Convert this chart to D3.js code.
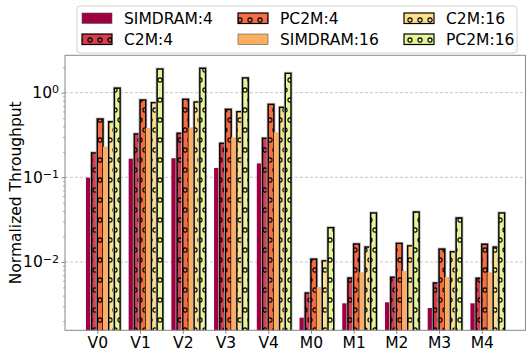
<!DOCTYPE html>
<html>
<head>
<meta charset="utf-8">
<script src="https://cdn.jsdelivr.net/npm/d3@7/dist/d3.min.js"></script>
<style>
  body { margin: 0; background: #fff; }
  text { font-family: "DejaVu Sans", sans-serif; fill: #000; }
</style>
</head>
<body>
<script>
// カテゴリと系列
var categories = ["V0", "V1", "V2", "V3", "V4", "M0", "M1", "M2", "M3", "M4"];
var seriesNames = ["SIMDRAM:4", "C2M:4", "PC2M:4", "SIMDRAM:16", "C2M:16", "PC2M:16"];

var simdram4  = [0.099, 0.166, 0.168, 0.129, 0.146, 0.0022, 0.00325, 0.00334, 0.00286, 0.00325];
var c2m4      = [0.194, 0.325, 0.331, 0.252, 0.289, 0.0043, 0.00647, 0.0066, 0.00565, 0.00643];
var pc2m4     = [0.488, 0.818, 0.834, 0.635, 0.727, 0.0108, 0.0163, 0.0166, 0.0142, 0.0162];
var simdram16 = [0.23, 0.382, 0.389, 0.297, 0.34, 0.00507, 0.00756, 0.00783, 0.00665, 0.00756];
var c2m16     = [0.453, 0.76, 0.774, 0.595, 0.67, 0.0103, 0.015, 0.0155, 0.0132, 0.015];
var pc2m16    = [1.13, 1.9, 1.94, 1.49, 1.69, 0.0254, 0.0379, 0.0389, 0.0331, 0.0379];

var seriesValues = [simdram4, c2m4, pc2m4, simdram16, c2m16, pc2m16];
var yMajorTicks = [0.01, 0.1, 1];
var yTickExponents = ["−2", "−1", "0"];

var colors = ["#9e0142", "#d53e4f", "#f46d43", "#fdae61", "#fee08b", "#e6f598"];
var hatched = [false, true, true, false, true, true];

var W = 531, H = 357;
var pLeft = 65, pRight = 525.5, pTop = 55.3, pBottom = 330.3;
var barW = 0.8 / 6;
var fs = 15.5; // 文字サイズ

var svg = d3.select("body").append("svg")
    .attr("width", W)
    .attr("height", H);

// ハッチ模様 (o)
var defs = svg.append("defs");
colors.forEach(function(c, i) {
    var p = defs.append("pattern")
        .attr("id", "hatch" + i)
        .attr("patternUnits", "userSpaceOnUse")
        .attr("width", 10)
        .attr("height", 20);
    p.append("rect").attr("width", 10).attr("height", 20).attr("fill", c);
    [[0, 0], [10, 0], [5, 10], [0, 20], [10, 20]].forEach(function(pt) {
        p.append("circle")
            .attr("cx", pt[0]).attr("cy", pt[1]).attr("r", 2.1)
            .attr("fill", "none").attr("stroke", "#000").attr("stroke-width", 1.1);
    });
});
defs.append("clipPath").attr("id", "plotclip")
    .append("rect").attr("x", pLeft).attr("y", pTop)
    .attr("width", pRight - pLeft).attr("height", pBottom - pTop);

// スケール
var x = d3.scaleLinear()
    .domain([-2 * barW - 0.49, 9 + 4 * barW + 0.49])
    .range([pLeft, pRight]);
var y = d3.scaleLog()
    .domain([0.00156, 2.76])
    .range([pBottom, pTop]);

// グリッド
svg.append("g").selectAll("line")
    .data(yMajorTicks)
    .enter().append("line")
    .attr("x1", pLeft).attr("x2", pRight)
    .attr("y1", function(d) { return y(d); })
    .attr("y2", function(d) { return y(d); })
    .attr("stroke", "#b8b8b8")
    .attr("stroke-width", 0.8)
    .attr("stroke-dasharray", "3,2");

// 棒グラフ
var bars = svg.append("g").attr("clip-path", "url(#plotclip)");
seriesValues.forEach(function(vals, j) {
    var g = bars.append("g");
    if (hatched[j]) {
        g.selectAll(".halo")
            .data(vals).enter().append("rect")
            .attr("x", function(d, i) { return x(i + (j - 2) * barW); })
            .attr("y", function(d) { return y(d); })
            .attr("width", x(barW) - x(0))
            .attr("height", function(d) { return pBottom + 5 - y(d); })
            .attr("fill", "none")
            .attr("stroke", "#bbb")
            .attr("stroke-width", 3);
    }
    g.selectAll(".bar")
        .data(vals).enter().append("rect")
        .attr("x", function(d, i) { return x(i + (j - 2) * barW); })
        .attr("y", function(d) { return y(d); })
        .attr("width", x(barW) - x(0))
        .attr("height", function(d) { return pBottom + 5 - y(d); })
        .attr("fill", hatched[j] ? "url(#hatch" + j + ")" : colors[j])
        .attr("stroke", hatched[j] ? "#000" : "none")
        .attr("stroke-width", 1.4);
});

// 枠
svg.append("rect")
    .attr("x", pLeft).attr("y", pTop)
    .attr("width", pRight - pLeft).attr("height", pBottom - pTop)
    .attr("fill", "none").attr("stroke", "#888").attr("stroke-width", 1);

// X軸
var xAxis = d3.axisBottom(x)
    .tickValues(d3.range(categories.length))
    .tickFormat(function(i) { return categories[i]; })
    .tickSize(3.5).tickSizeOuter(0);
var gx = svg.append("g")
    .attr("transform", "translate(0," + pBottom + ")")
    .call(xAxis);
gx.select(".domain").remove();
gx.selectAll("line").attr("stroke", "#888");
gx.selectAll("text")
    .attr("font-size", fs + "px")
    .attr("font-family", "DejaVu Sans")
    .attr("dy", "0.75em");

// Y軸 (対数, 補助目盛り)
var minorTicks = [];
for (var k = -3; k <= 0; k++) {
    for (var m = 2; m <= 9; m++) {
        var v = m * Math.pow(10, k);
        if (v > 0.00156 && v < 2.76) minorTicks.push(v);
    }
}
var gyMinor = svg.append("g")
    .attr("transform", "translate(" + pLeft + ",0)")
    .call(d3.axisLeft(y).tickValues(minorTicks).tickFormat("").tickSize(2));
gyMinor.select(".domain").remove();
gyMinor.selectAll("line").attr("stroke", "#888").attr("stroke-width", 0.7);

var gy = svg.append("g")
    .attr("transform", "translate(" + pLeft + ",0)")
    .call(d3.axisLeft(y).tickValues(yMajorTicks).tickFormat("").tickSize(3.5));
gy.select(".domain").remove();
gy.selectAll("line").attr("stroke", "#888");

var yl = svg.append("g").selectAll("text")
    .data(yMajorTicks)
    .enter().append("text")
    .attr("x", 59)
    .attr("y", function(d) { return y(d) + 5.5; })
    .attr("text-anchor", "end")
    .attr("font-size", fs + "px");
yl.append("tspan").text("10");
yl.append("tspan")
    .attr("dy", "-0.45em")
    .attr("font-size", "11px")
    .text(function(d, i) { return yTickExponents[i]; });

svg.append("text")
    .attr("transform", "translate(21," + ((pTop + pBottom) / 2) + ") rotate(-90)")
    .attr("text-anchor", "middle")
    .attr("font-size", fs + "px")
    .text("Normalized Throughput");

// 凡例
var legend = svg.append("g");
legend.append("rect")
    .attr("x", 77).attr("y", 6)
    .attr("width", 440).attr("height", 47)
    .attr("rx", 3)
    .attr("fill", "#fff")
    .attr("stroke", "#d0d0d0");
var colX = [82, 238, 404];
var rowY = [13, 34];
seriesNames.forEach(function(name, j) {
    var cx = colX[Math.floor(j / 2)], ry = rowY[j % 2];
    legend.append("rect")
        .attr("x", cx).attr("y", ry)
        .attr("width", 30).attr("height", 10.5)
        .attr("fill", hatched[j] ? "url(#hatch" + j + ")" : colors[j])
        .attr("stroke", hatched[j] ? "#000" : "#555")
        .attr("stroke-width", hatched[j] ? 1.2 : 0.6);
    legend.append("text")
        .attr("x", cx + 42).attr("y", ry + 11)
        .attr("font-size", fs + "px")
        .text(name);
});
</script>
</body>
</html>
